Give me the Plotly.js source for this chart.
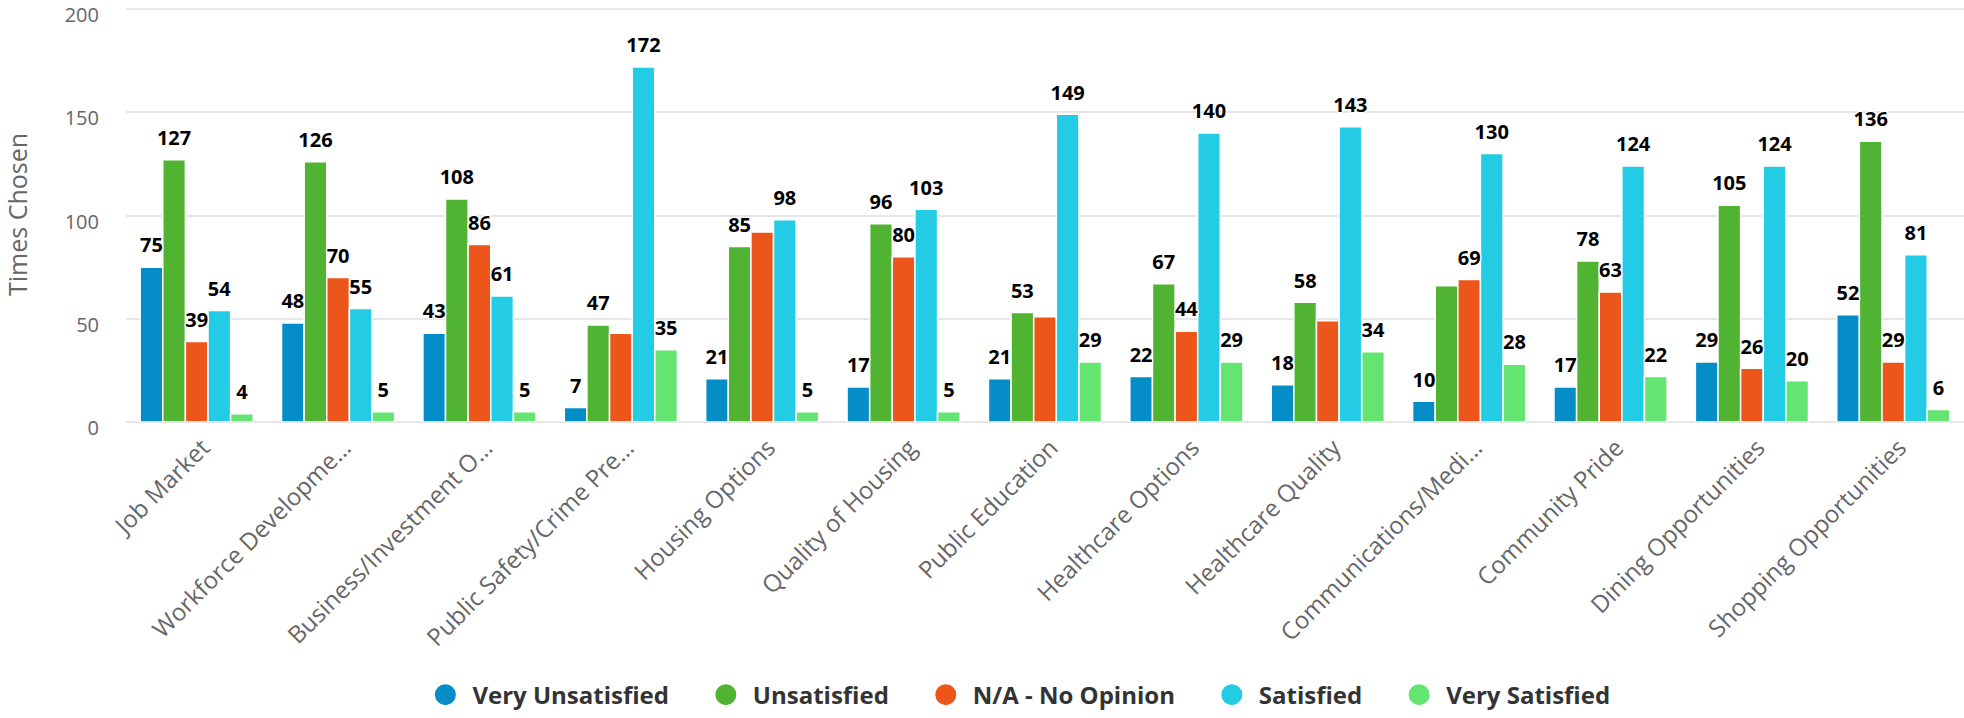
<!DOCTYPE html>
<html>
<head>
<meta charset="utf-8">
<script src="https://cdn.plot.ly/plotly-3.0.1.min.js"></script>
<style>
  html, body { margin: 0; padding: 0; background: #fff; }
  #chart { width: 1964px; height: 718px; }
</style>
</head>
<body>
<div id="chart"></div>
<script>
// ---- data ----
const categories = [
  "Job Market",
  "Workforce Developme\u2026",
  "Business/Investment O\u2026",
  "Public Safety/Crime Pre\u2026",
  "Housing Options",
  "Quality of Housing",
  "Public Education",
  "Healthcare Options",
  "Healthcare Quality",
  "Communications/Medi\u2026",
  "Community Pride",
  "Dining Opportunities",
  "Shopping Opportunities"
];
const seriesNames = ["Very Unsatisfied", "Unsatisfied", "N/A - No Opinion", "Satisfied", "Very Satisfied"];
const veryUnsatisfied = [75, 48, 43, 7, 21, 17, 21, 22, 18, 10, 17, 29, 52];
const unsatisfied     = [127, 126, 108, 47, 85, 96, 53, 67, 58, 66, 78, 105, 136];
const noOpinion       = [39, 70, 86, 43, 92, 80, 51, 44, 49, 69, 63, 26, 29];
const satisfied       = [54, 55, 61, 172, 98, 103, 149, 140, 143, 130, 124, 124, 81];
const verySatisfied   = [4, 5, 5, 35, 5, 5, 29, 29, 34, 28, 22, 20, 6];
const seriesValues = [veryUnsatisfied, unsatisfied, noOpinion, satisfied, verySatisfied];
// labels hidden in the original because they overlapped: [seriesIndex, categoryIndex]
const hiddenLabels = [[2, 3], [2, 4], [2, 6], [2, 8], [1, 9]];
const yTicks = [0, 50, 100, 150, 200];

// ---- styles ----
const colors = ["#058DC7", "#50B432", "#ED561B", "#24CBE5", "#64E572"];
const FONT = "Open Sans, Noto Sans, sans-serif";
const outline = "1px 1px 0 #fff, -1px -1px 0 #fff, 1px -1px 0 #fff, -1px 1px 0 #fff, 0 1px 0 #fff, 0 -1px 0 #fff, 1px 0 0 #fff, -1px 0 0 #fff";

const traces = [];
// bars
seriesValues.forEach((vals, i) => {
  traces.push({
    type: "bar",
    name: seriesNames[i],
    x: categories,
    y: vals,
    marker: { color: colors[i], line: { color: "#ffffff", width: 1.5 } },
    showlegend: false,
    hovertemplate: "%{x}<br>" + seriesNames[i] + ": %{y}<extra></extra>"
  });
});
// data labels (scatter, grouped like the bars)
seriesValues.forEach((vals, i) => {
  const txt = vals.map((v, j) =>
    hiddenLabels.some(h => h[0] === i && h[1] === j) ? "" : String(v));
  traces.push({
    type: "scatter",
    mode: "markers+text",
    orientation: "v",
    x: categories,
    y: vals,
    text: txt,
    textposition: "top center",
    textfont: { family: FONT, size: 20, color: "#000000", weight: 700, shadow: outline },
    marker: { size: 14, color: "rgba(0,0,0,0)" },
    cliponaxis: false,
    showlegend: false,
    hoverinfo: "skip"
  });
});
// legend entries (circles) on a hidden overlay axis
seriesNames.forEach((n, i) => {
  traces.push({
    type: "scatter",
    mode: "markers",
    name: n + "\u00a0\u00a0\u00a0\u00a0",
    x: [null],
    y: [null],
    xaxis: "x2",
    yaxis: "y2",
    marker: { size: 16, color: colors[i], line: { color: colors[i], width: 5 } },
    showlegend: true,
    hoverinfo: "skip"
  });
});

const layout = {
  width: 1964,
  height: 718,
  margin: { l: 126, r: 0, t: 7, b: 294 },
  paper_bgcolor: "#ffffff",
  plot_bgcolor: "#ffffff",
  font: { family: FONT, color: "#666666" },
  barmode: "group",
  bargap: 0.2,
  bargroupgap: 0,
  scattermode: "group",
  scattergap: 0.2,
  showlegend: true,
  xaxis: {
    type: "category",
    tickangle: -45,
    tickfont: { family: FONT, size: 24, color: "#666666" },
    showgrid: false,
    showline: false,
    ticks: "",
    ticklabelstandoff: 6,
    ticklabelshift: 6,
    automargin: false
  },
  yaxis: {
    range: [0, 201],
    tickvals: yTicks,
    ticktext: yTicks.map(String),
    tickfont: { family: FONT, size: 20, color: "#666666" },
    ticklabeloverflow: "allow",
    ticklabelshift: 6,
    showgrid: true,
    gridcolor: "#e6e6e6",
    gridwidth: 2,
    zeroline: true,
    zerolinecolor: "#e6e6e6",
    zerolinewidth: 2,
    showline: false,
    ticks: "",
    ticklabelstandoff: 26,
    automargin: false,
    title: { text: "Times Chosen", font: { family: FONT, size: 25, color: "#666666" }, standoff: 36 }
  },
  xaxis2: { overlaying: "x", visible: false, anchor: "y2" },
  yaxis2: { overlaying: "y", visible: false, anchor: "x2" },
  legend: {
    orientation: "h",
    x: 0.4915,
    xanchor: "center",
    y: -0.658,
    yanchor: "middle",
    itemwidth: 44,
    font: { family: FONT, size: 24, color: "#333333", weight: 700 },
    bgcolor: "rgba(0,0,0,0)"
  }
};

Plotly.newPlot("chart", traces, layout, { displayModeBar: false, responsive: false });
</script>
</body>
</html>
